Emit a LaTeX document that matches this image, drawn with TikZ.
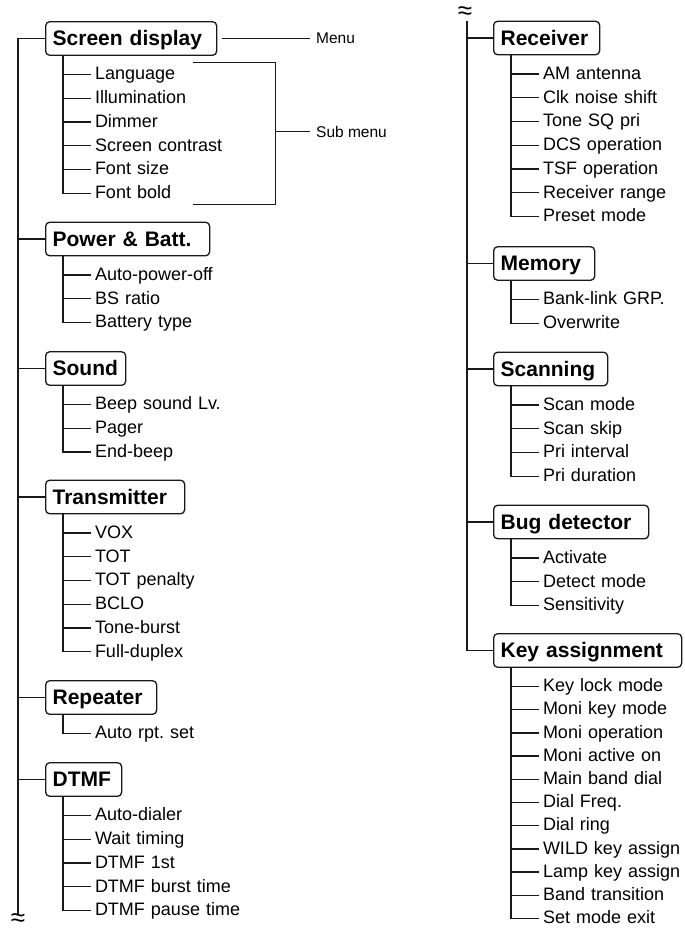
\documentclass[tikz,border=0pt]{standalone}
\usepackage{fontspec}
\setmainfont{Liberation Sans}
\usetikzlibrary{positioning}
\definecolor{inkblack}{RGB}{25,25,25}
\frenchspacing

\begin{document}
\begin{tikzpicture}[
 x=1pt, y=-1pt,
 menubox/.style={rectangle, draw=inkblack, rounded corners=4pt, line width=1.3pt, anchor=west, align=left, inner xsep=7pt, inner ysep=0pt, minimum height=33.5pt, text height=18pt, text depth=4pt, font=\fontsize{21}{24}\selectfont\bfseries},
 item/.style={rectangle, text width=160pt, align=left, inner xsep=4pt, inner ysep=0pt, outer sep=0pt, minimum height=23.75pt, text height=13pt, text depth=2.5pt, font=\fontsize{18}{20}\selectfont},
 keyitem/.style={item, minimum height=23.2pt},
 bus/.style={line width=1.3pt, color=inkblack},
 tick/.style={line width=1.3pt, color=inkblack},
 callout/.style={line width=0.8pt, color=inkblack},
 note/.style={anchor=west, inner xsep=6pt, font=\fontsize{15.5}{18}\selectfont},
 brk/.style={inner sep=0pt, font=\fontsize{26}{28}\selectfont}
]
\useasboundingbox (0,0) rectangle (685,932);

% Left column: menus
\node[menubox, text width=157pt] (sd) at (45,38.5) {Screen display};
\node[menubox, text width=150pt] (pb) at (45,239) {Power \& Batt.};
\node[menubox, text width=66pt] (snd) at (45,368.5) {Sound};
\node[menubox, text width=125pt] (tx) at (45,497) {Transmitter};
\node[menubox, text width=97pt] (rp) at (45,697.5) {Repeater};
\node[menubox, text width=62pt] (dt) at (45,779.5) {DTMF};

% Right column: menus
\node[menubox, text width=92pt] (rc) at (493,38) {Receiver};
\node[menubox, text width=87pt] (mem) at (493,263.5) {Memory};
\node[menubox, text width=100pt] (scn) at (493,369) {Scanning};
\node[menubox, text width=141pt] (bug) at (493,522) {Bug detector};
\node[menubox, text width=174pt] (key) at (493,650.5) {Key assignment};

% Screen display items
\node[item, below right=6.8pt and 46pt of sd.south west] (sd1) {Language};
\node[item, below=0pt of sd1] (sd2) {Illumination};
\node[item, below=0pt of sd2] (sd3) {Dimmer};
\node[item, below=0pt of sd3] (sd4) {Screen contrast};
\node[item, below=0pt of sd4] (sd5) {Font size};
\node[item, below=0pt of sd5] (sd6) {Font bold};

% Power & Batt. items
\node[item, below right=6.8pt and 46pt of pb.south west] (pb1) {Auto-power-off};
\node[item, below=0pt of pb1] (pb2) {BS ratio};
\node[item, below=0pt of pb2] (pb3) {Battery type};

% Sound items
\node[item, below right=6.8pt and 46pt of snd.south west] (snd1) {Beep sound Lv.};
\node[item, below=0pt of snd1] (snd2) {Pager};
\node[item, below=0pt of snd2] (snd3) {End-beep};

% Transmitter items
\node[item, below right=6.8pt and 46pt of tx.south west] (tx1) {VOX};
\node[item, below=0pt of tx1] (tx2) {TOT};
\node[item, below=0pt of tx2] (tx3) {TOT penalty};
\node[item, below=0pt of tx3] (tx4) {BCLO};
\node[item, below=0pt of tx4] (tx5) {Tone-burst};
\node[item, below=0pt of tx5] (tx6) {Full-duplex};

% Repeater items
\node[item, below right=6.8pt and 46pt of rp.south west] (rp1) {Auto rpt. set};

% DTMF items
\node[item, below right=6.8pt and 46pt of dt.south west] (dt1) {Auto-dialer};
\node[item, below=0pt of dt1] (dt2) {Wait timing};
\node[item, below=0pt of dt2] (dt3) {DTMF 1st};
\node[item, below=0pt of dt3] (dt4) {DTMF burst time};
\node[item, below=0pt of dt4] (dt5) {DTMF pause time};

% Receiver items
\node[item, below right=6.8pt and 46pt of rc.south west] (rc1) {AM antenna};
\node[item, below=0pt of rc1] (rc2) {Clk noise shift};
\node[item, below=0pt of rc2] (rc3) {Tone SQ pri};
\node[item, below=0pt of rc3] (rc4) {DCS operation};
\node[item, below=0pt of rc4] (rc5) {TSF operation};
\node[item, below=0pt of rc5] (rc6) {Receiver range};
\node[item, below=0pt of rc6] (rc7) {Preset mode};

% Memory items
\node[item, below right=6.8pt and 46pt of mem.south west] (mem1) {Bank-link GRP.};
\node[item, below=0pt of mem1] (mem2) {Overwrite};

% Scanning items
\node[item, below right=6.8pt and 46pt of scn.south west] (scn1) {Scan mode};
\node[item, below=0pt of scn1] (scn2) {Scan skip};
\node[item, below=0pt of scn2] (scn3) {Pri interval};
\node[item, below=0pt of scn3] (scn4) {Pri duration};

% Bug detector items
\node[item, below right=6.8pt and 46pt of bug.south west] (bug1) {Activate};
\node[item, below=0pt of bug1] (bug2) {Detect mode};
\node[item, below=0pt of bug2] (bug3) {Sensitivity};

% Key assignment items
\node[keyitem, below right=7pt and 46pt of key.south west] (key1) {Key lock mode};
\node[keyitem, below=0pt of key1] (key2) {Moni key mode};
\node[keyitem, below=0pt of key2] (key3) {Moni operation};
\node[keyitem, below=0pt of key3] (key4) {Moni active on};
\node[keyitem, below=0pt of key4] (key5) {Main band dial};
\node[keyitem, below=0pt of key5] (key6) {Dial Freq.};
\node[keyitem, below=0pt of key6] (key7) {Dial ring};
\node[keyitem, below=0pt of key7] (key8) {WILD key assign};
\node[keyitem, below=0pt of key8] (key9) {Lamp key assign};
\node[keyitem, below=0pt of key9] (key10) {Band transition};
\node[keyitem, below=0pt of key10] (key11) {Set mode exit};

% Main buses
\coordinate (lbot) at (18,914);
\coordinate (rtop) at (467,21);
\draw[bus] (sd.west) -| (lbot);
\draw[bus] (pb.west) -- (pb.west -| lbot);
\draw[bus] (snd.west) -- (snd.west -| lbot);
\draw[bus] (tx.west) -- (tx.west -| lbot);
\draw[bus] (rp.west) -- (rp.west -| lbot);
\draw[bus] (dt.west) -- (dt.west -| lbot);
\draw[bus] (rtop) |- (key.west);
\draw[bus] (rc.west) -- (rc.west -| rtop);
\draw[bus] (mem.west) -- (mem.west -| rtop);
\draw[bus] (scn.west) -- (scn.west -| rtop);
\draw[bus] (bug.west) -- (bug.west -| rtop);
\node[brk] (lwave) at (18,920) {≈};
\node[brk] (rwave) at (465,13) {≈};

% Sub buses
\coordinate (sdb) at ([xshift=18pt]sd.south west);
\draw[tick] (sdb) |- (sd6.west) (sdb |- sd1.west) -- (sd1.west) (sdb |- sd2.west) -- (sd2.west)
 (sdb |- sd3.west) -- (sd3.west) (sdb |- sd4.west) -- (sd4.west) (sdb |- sd5.west) -- (sd5.west);
\coordinate (pbb) at ([xshift=18pt]pb.south west);
\draw[tick] (pbb) |- (pb3.west) (pbb |- pb1.west) -- (pb1.west) (pbb |- pb2.west) -- (pb2.west);
\coordinate (sndb) at ([xshift=18pt]snd.south west);
\draw[tick] (sndb) |- (snd3.west) (sndb |- snd1.west) -- (snd1.west) (sndb |- snd2.west) -- (snd2.west);
\coordinate (txb) at ([xshift=18pt]tx.south west);
\draw[tick] (txb) |- (tx6.west) (txb |- tx1.west) -- (tx1.west) (txb |- tx2.west) -- (tx2.west)
 (txb |- tx3.west) -- (tx3.west) (txb |- tx4.west) -- (tx4.west) (txb |- tx5.west) -- (tx5.west);
\coordinate (rpb) at ([xshift=18pt]rp.south west);
\draw[tick] (rpb) |- (rp1.west);
\coordinate (dtb) at ([xshift=18pt]dt.south west);
\draw[tick] (dtb) |- (dt5.west) (dtb |- dt1.west) -- (dt1.west) (dtb |- dt2.west) -- (dt2.west)
 (dtb |- dt3.west) -- (dt3.west) (dtb |- dt4.west) -- (dt4.west);
\coordinate (rcb) at ([xshift=18pt]rc.south west);
\draw[tick] (rcb) |- (rc7.west) (rcb |- rc1.west) -- (rc1.west) (rcb |- rc2.west) -- (rc2.west)
 (rcb |- rc3.west) -- (rc3.west) (rcb |- rc4.west) -- (rc4.west) (rcb |- rc5.west) -- (rc5.west)
 (rcb |- rc6.west) -- (rc6.west);
\coordinate (memb) at ([xshift=18pt]mem.south west);
\draw[tick] (memb) |- (mem2.west) (memb |- mem1.west) -- (mem1.west);
\coordinate (scnb) at ([xshift=18pt]scn.south west);
\draw[tick] (scnb) |- (scn4.west) (scnb |- scn1.west) -- (scn1.west) (scnb |- scn2.west) -- (scn2.west)
 (scnb |- scn3.west) -- (scn3.west);
\coordinate (bugb) at ([xshift=18pt]bug.south west);
\draw[tick] (bugb) |- (bug3.west) (bugb |- bug1.west) -- (bug1.west) (bugb |- bug2.west) -- (bug2.west);
\coordinate (keyb) at ([xshift=18pt]key.south west);
\draw[tick] (keyb) |- (key11.west) (keyb |- key1.west) -- (key1.west) (keyb |- key2.west) -- (key2.west)
 (keyb |- key3.west) -- (key3.west) (keyb |- key4.west) -- (key4.west) (keyb |- key5.west) -- (key5.west)
 (keyb |- key6.west) -- (key6.west) (keyb |- key7.west) -- (key7.west) (keyb |- key8.west) -- (key8.west)
 (keyb |- key9.west) -- (key9.west) (keyb |- key10.west) -- (key10.west);

% Callouts
\node[note] (menu) at (310,38.5) {Menu};
\node[note] (submenu) at (310,131.7) {Sub menu};
\draw[callout] ([xshift=5pt]sd.east) -- (menu.west);
\coordinate (subtl) at (193,62.5);
\coordinate (subtr) at (275,62.5);
\coordinate (subbl) at (193,204.5);
\draw[callout] (subtl) -- (subtr) |- (subbl);
\draw[callout] (subtr |- submenu.west) -- (submenu.west);

\end{tikzpicture}
\end{document}
